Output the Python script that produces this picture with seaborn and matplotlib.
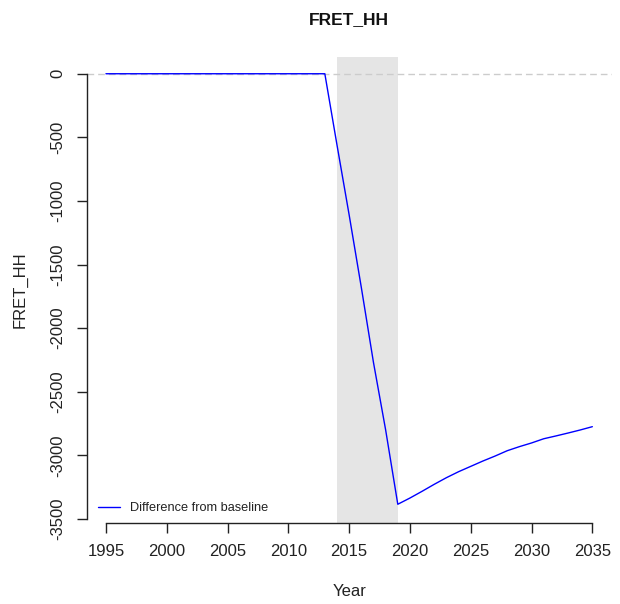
import numpy as np
import pandas as pd
import matplotlib
matplotlib.use("Agg")
import matplotlib.pyplot as plt
import seaborn as sns

sns.set_style("ticks")
plt.rcParams['font.family'] = ['Liberation Sans', 'DejaVu Sans']

# ---- data ----
years = list(range(1995, 2036))
flat_years_values = [0] * (2013 - 1995 + 1)  # 1995..2013
decline_values = [-560, -1110, -1680, -2270, -2800, -3385]  # 2014..2019
recovery_values = [-3336, -3283, -3228, -3176, -3129, -3087, -3045, -3006,
                   -2964, -2932, -2903, -2870, -2848, -2825, -2801, -2775]  # 2020..2035
diff_values = flat_years_values + decline_values + recovery_values
shade_start, shade_end = 2014, 2019
x_ticks = [1995, 2000, 2005, 2010, 2015, 2020, 2025, 2030, 2035]
y_ticks = [0, -500, -1000, -1500, -2000, -2500, -3000, -3500]
series_label = "Difference from baseline"
title = "FRET_HH"
x_label = "Year"
y_label = "FRET_HH"

df = pd.DataFrame({"Year": years, "Value": diff_values})

fig = plt.figure(figsize=(6.2, 6.04), dpi=100)
ax = fig.add_axes([86.5 / 620, (604 - 522.7) / 604, (611.8 - 86.5) / 620, (522.7 - 56.7) / 604])

ax.axvspan(shade_start, shade_end, color="#e5e5e5", lw=0, zorder=0)
ax.axhline(0, color="#cccccc", lw=1.0, dashes=(4.8, 2.9), zorder=1)
sns.lineplot(data=df, x="Year", y="Value", ax=ax, color="#0000ff", lw=1.0,
             label=series_label, zorder=3)

ax.set_xlim(1993.4, 2036.6)
ax.set_ylim(-3530, 134)
ax.set_xticks(x_ticks)
ax.set_xticklabels([str(t) for t in x_ticks])
ax.set_yticks(y_ticks)
ax.set_yticklabels([str(t) for t in y_ticks], rotation=90, va="center")

for s in ["top", "right"]:
    ax.spines[s].set_visible(False)
ax.spines["left"].set_bounds(-3500, 0)
ax.spines["bottom"].set_bounds(1995, 2035)
for s in ["left", "bottom"]:
    ax.spines[s].set_color("#222222")
    ax.spines[s].set_linewidth(1.0)
ax.tick_params(axis="both", length=7.2, width=1.0, color="#222222",
               labelsize=12, labelcolor="#222222", pad=8)

ax.set_xlabel(x_label, fontsize=12, color="#222222", labelpad=0)
ax.set_ylabel(y_label, fontsize=12, color="#222222", labelpad=0)
ax.xaxis.set_label_coords(0.5, -(591 - 522.7) / 466)
ax.yaxis.set_label_coords(-(86.5 - 20) / 525.3, 0.5)
ax.xaxis.label.set_va("center")
ax.yaxis.label.set_va("center")

fig.text(348.7 / 620, 1 - 20 / 604, title, ha="center", va="center",
         fontsize=12.5, fontweight="bold", color="#111111")

leg = ax.legend(loc="center left", bbox_to_anchor=(11.8 / 525.3, 14.4 / 466),
                frameon=False, fontsize=9.2, handlelength=1.72,
                handletextpad=0.78, borderpad=0, borderaxespad=0)
for t in leg.get_texts():
    t.set_color("#222222")

fig.savefig("out.png", dpi=100)
